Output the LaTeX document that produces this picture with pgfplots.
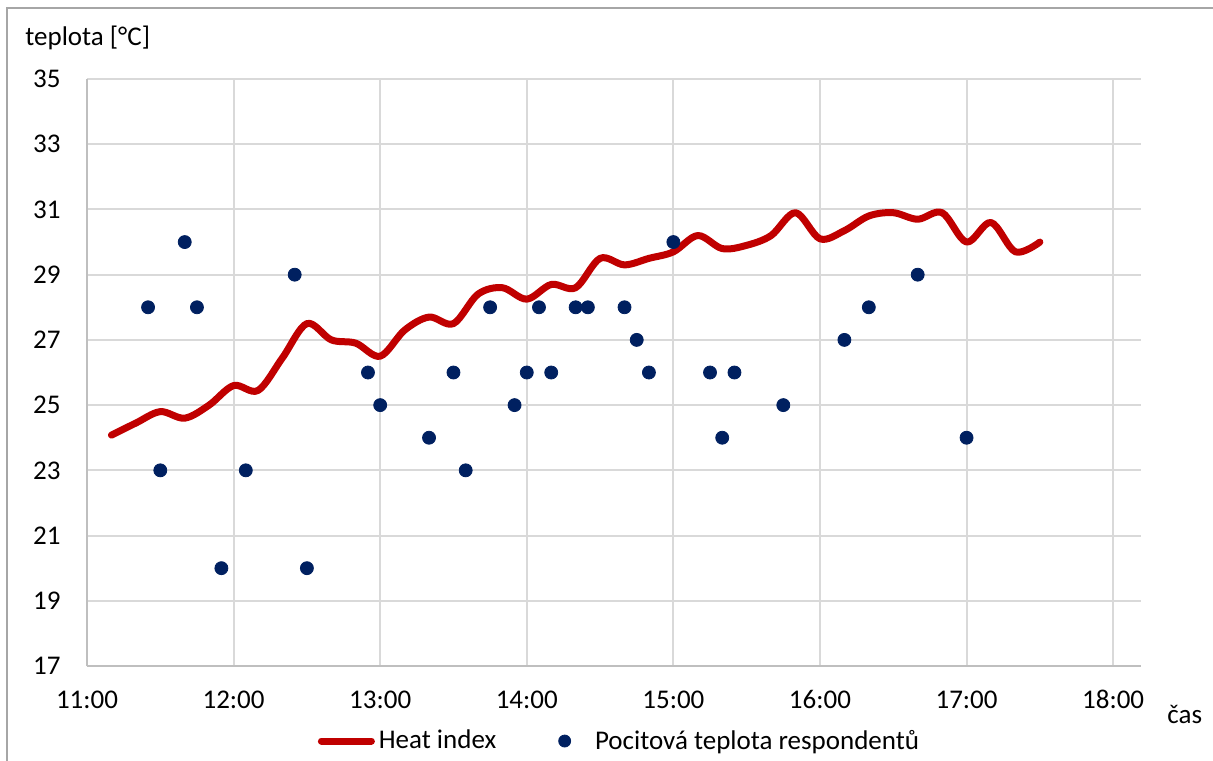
\documentclass[border=0pt]{standalone}
\usepackage{fontspec}
\setmainfont{Carlito}
\usepackage{pgfplots}
\pgfplotsset{compat=1.18}

\definecolor{hired}{HTML}{C00000}
\definecolor{dotblue}{HTML}{002060}
\definecolor{gridgray}{HTML}{D9D9D9}
\definecolor{axisgray}{HTML}{BFBFBF}
\definecolor{framegray}{HTML}{A6A6A6}

\newcommand{\chartfont}{\fontsize{13.5}{16}\selectfont}

\begin{document}
\begin{tikzpicture}
\useasboundingbox (0pt,0pt) rectangle (606.5pt,-380pt);
% chart frame
\draw[framegray, line width=1pt] (3.5pt,-400pt) -- (3.5pt,-4pt) -- (640pt,-4pt);

\begin{axis}[
  at={(43.5pt,-333pt)}, anchor=south west,
  scale only axis, width=527pt, height=293.5pt,
  xmin=11, xmax=18.19, ymin=17, ymax=35,
  xtick={11,12,13,14,15,16,17,18},
  xticklabels={11:00,12:00,13:00,14:00,15:00,16:00,17:00,18:00},
  ytick={17,19,21,23,25,27,29,31,33,35},
  grid=major,
  major grid style={draw=gridgray, line width=1pt},
  axis x line*=bottom, axis y line*=left,
  axis line style={draw=axisgray, line width=1pt, -},
  major tick length=0pt,
  font=\chartfont,
  /pgf/number format/assume math mode=true,
  xticklabel style={anchor=base, inner sep=0pt, yshift=-21pt},
  yticklabel style={anchor=east, inner sep=0pt, xshift=-13pt},
  legend style={at={(0.213,-0.1278)}, anchor=west, draw=none, fill=none,
    legend columns=2, font=\chartfont,
    nodes={inner sep=0pt},
    /tikz/column 1/.style={column sep=2pt},
    /tikz/column 2/.style={column sep=31pt},
    /tikz/column 3/.style={column sep=12pt}},
]

% heat index, 10-minute values
\addplot[hired, line width=3.5pt, line cap=round, line join=round, smooth, tension=0.55,
  legend image code/.code={\draw[hired, line width=3.5pt, line cap=round] (0pt,0pt) -- (25pt,0pt);}]
  coordinates {
  (11.1667,24.08) (11.3333,24.45) (11.5,24.8) (11.6667,24.6) (11.8333,25.0)
  (12.0,25.6) (12.1667,25.45) (12.3333,26.45) (12.5,27.5) (12.6667,27.0)
  (12.8333,26.9) (13.0,26.5) (13.1667,27.3) (13.3333,27.7) (13.5,27.5)
  (13.6667,28.4) (13.8333,28.6) (14.0,28.25) (14.1667,28.7) (14.3333,28.6)
  (14.5,29.5) (14.6667,29.3) (14.8333,29.5) (15.0,29.7) (15.1667,30.2)
  (15.3333,29.8) (15.5,29.9) (15.6667,30.2) (15.8333,30.9) (16.0,30.1)
  (16.1667,30.35) (16.3333,30.8) (16.5,30.9) (16.6667,30.7) (16.8333,30.9)
  (17.0,30.0) (17.1667,30.6) (17.3333,29.7) (17.5,30.0)
  };
\addlegendentry{Heat index}

% respondents' perceived temperature
\addplot[only marks, mark=*, mark size=3.25pt, mark options={fill=dotblue, draw=dotblue},
  legend image code/.code={\fill[dotblue] (0pt,0pt) circle (3pt);}]
  coordinates {
  (11.4167,28) (11.5,23) (11.6667,30) (11.75,28) (11.9167,20)
  (12.0833,23) (12.4167,29) (12.5,20) (12.9167,26) (13.0,25)
  (13.3333,24) (13.5,26) (13.5833,23) (13.75,28) (13.9167,25)
  (14.0,26) (14.0833,28) (14.1667,26) (14.3333,28) (14.4167,28)
  (14.6667,28) (14.75,27) (14.8333,26) (15.0,30) (15.25,26)
  (15.3333,24) (15.4167,26) (15.75,25) (16.1667,27) (16.3333,28)
  (16.6667,29) (17.0,24)
  };
\addlegendentry{Pocitová teplota respondentů}
\end{axis}

\node[anchor=base west, inner sep=0pt, font=\chartfont] at (12.5pt,-22.5pt) {teplota [°C]};
\node[anchor=base west, inner sep=0pt, font=\chartfont] at (583.5pt,-361.5pt) {čas};
\end{tikzpicture}
\end{document}
